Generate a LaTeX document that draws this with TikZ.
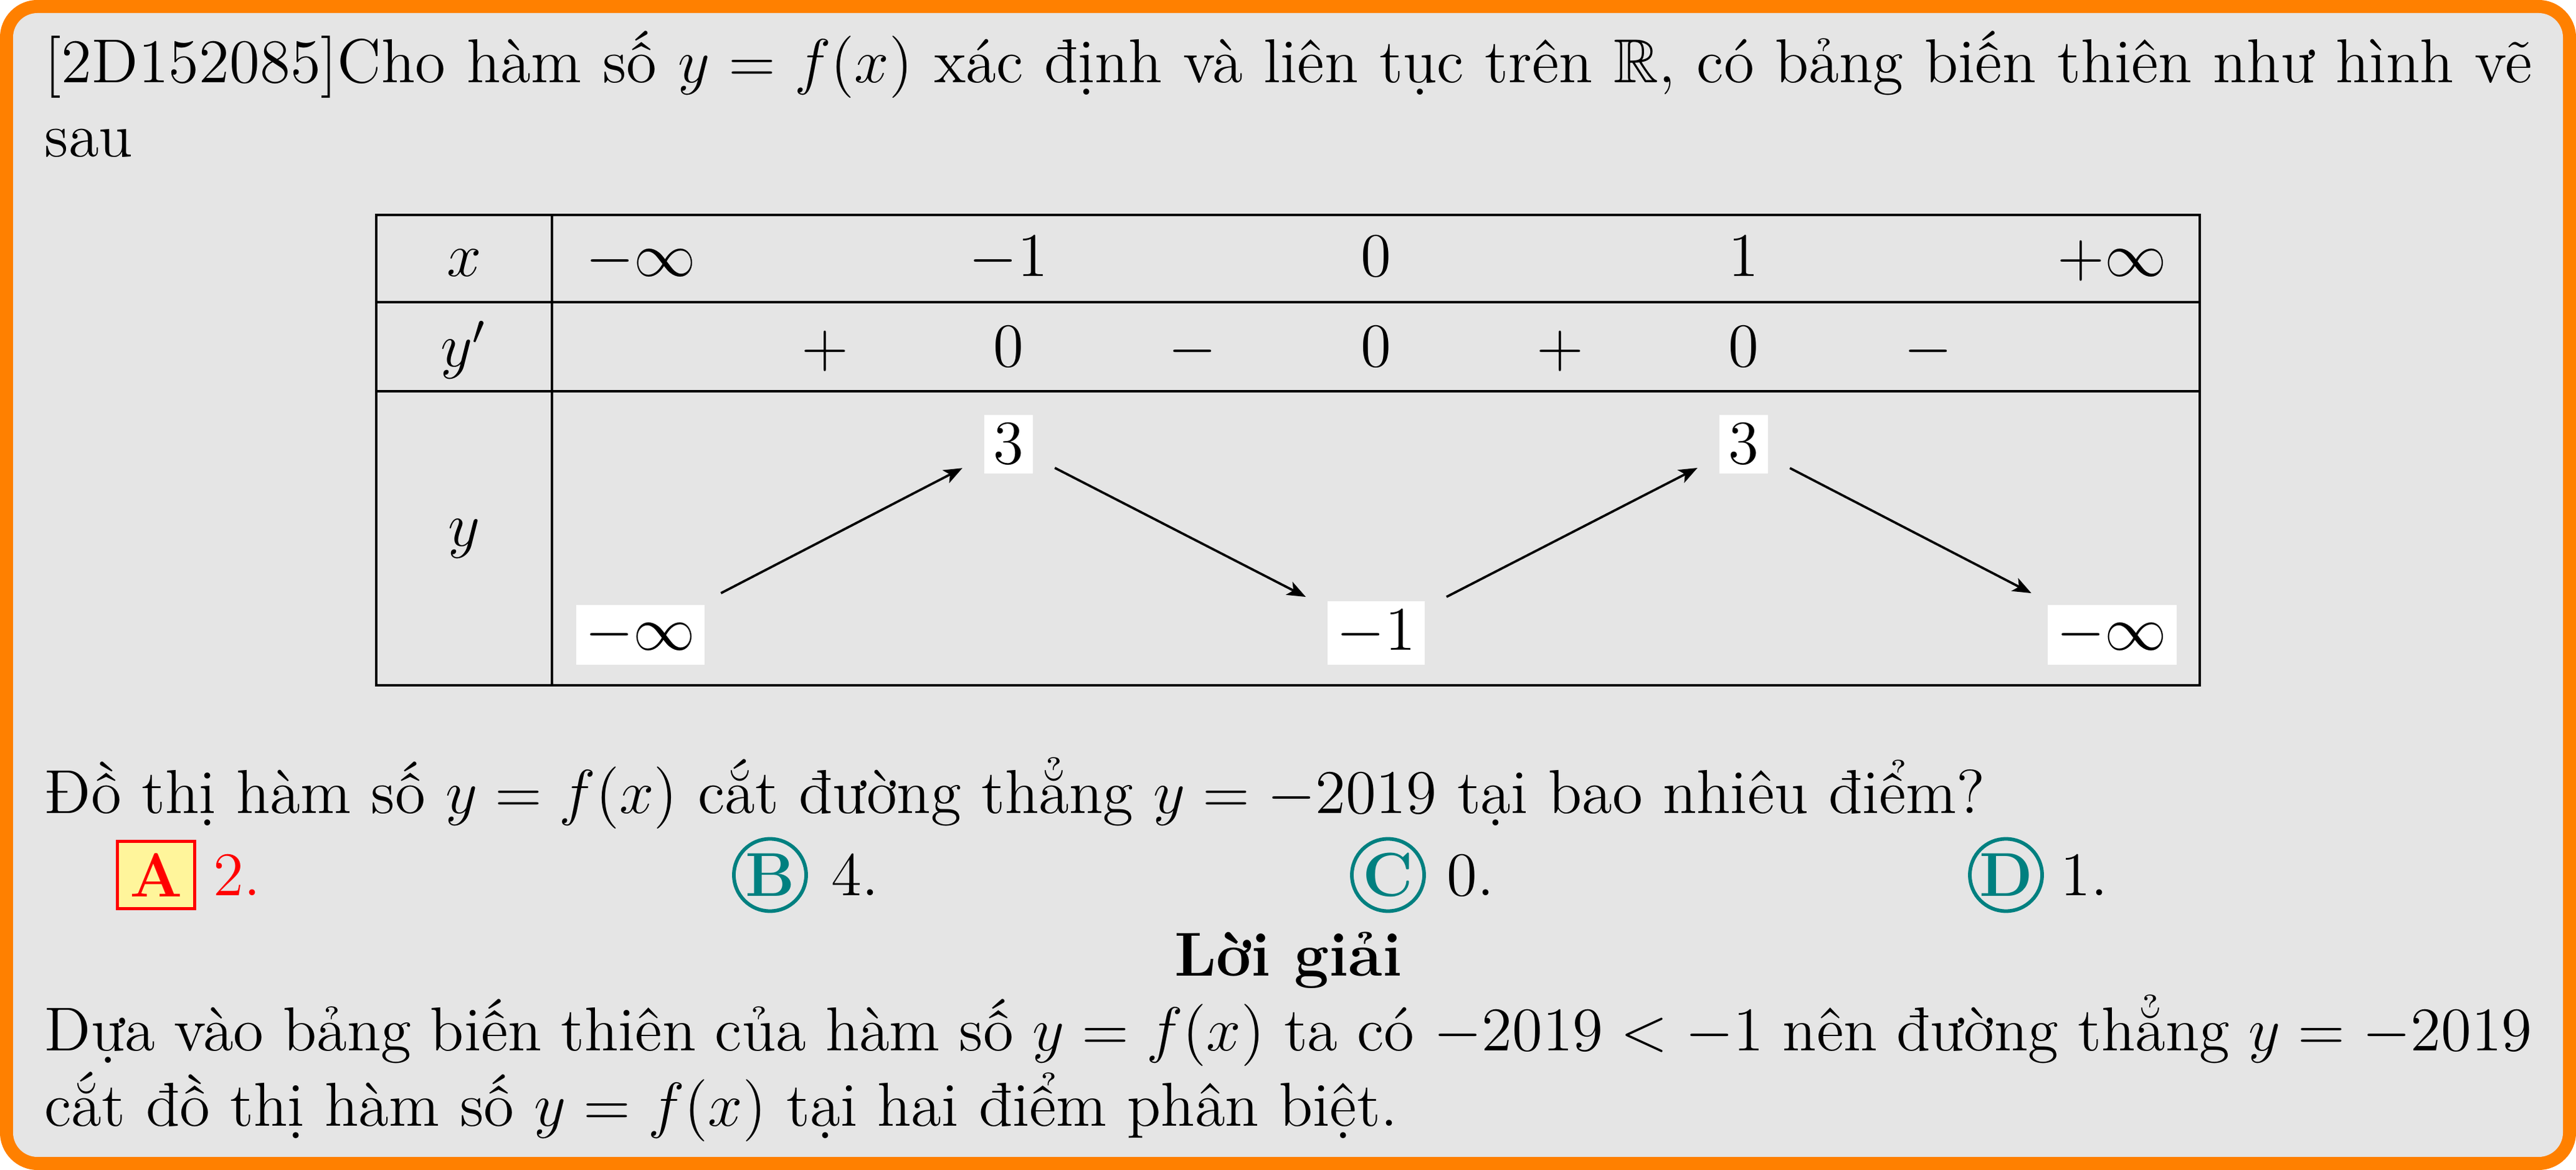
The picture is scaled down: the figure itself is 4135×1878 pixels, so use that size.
\documentclass[tikz,border=0pt,12pt]{standalone}
\usepackage{amssymb}
\usetikzlibrary{arrows.meta}
\newlength\pxu
\setlength\pxu{0.12048pt}
\definecolor{frameorange}{RGB}{255,128,0}
\definecolor{boxgray}{RGB}{229,229,229}
\definecolor{ansyellow}{RGB}{255,245,155}
\definecolor{ansteal}{RGB}{0,128,128}
\begin{document}
\begin{tikzpicture}[x=\pxu, y=-\pxu,
  every node/.style={inner sep=0pt},
  txt/.style={anchor=base west},
  tline/.style={line width=0.5pt},
  tval/.style={anchor=base},
  yval/.style={fill=white, inner sep=1.8pt, anchor=base},
  varrow/.style={-{Stealth[length=3.6pt,width=2.8pt,inset=0.9pt]}, line width=0.45pt, shorten <=4.5pt, shorten >=4.5pt},
  choicecirc/.style={circle, draw=ansteal, line width=0.7pt, minimum size=116\pxu, text=ansteal, font=\bfseries},
  choicebox/.style={draw=red, fill=ansyellow, line width=0.6pt, minimum width=124\pxu, minimum height=108\pxu, text=red, font=\bfseries}]
\useasboundingbox (0,0) rectangle (4135,1878);
% frame
\fill[frameorange, rounded corners=60\pxu] (0,0) rectangle (4135,1878);
\fill[boxgray, rounded corners=39\pxu] (21,21) rectangle (4114,1857);
% statement
\node[txt] (l1) at (70,133) {\makebox[3993\pxu][s]{[2D152085]Cho hàm số $y=f(x)$ xác định và liên tục trên $\mathbb{R}$, có bảng biến thiên như hình vẽ}};
\node[txt] (l2) at (70,252) {sau};
% table
\draw[tline] (604,345) rectangle (3531,1100);
\draw[tline] (604,485) -- (3531,485);
\draw[tline] (604,628) -- (3531,628);
\draw[tline] (886,345) -- (886,1100);
\node[tval] (lx) at (745,444) {$x$};
\node[tval] (lyp) at (745,589) {$y'$};
\node[tval] (ly) at (745,877) {$y$};
\node[tval] (x1) at (1029,444) {$-\infty$};
\node[tval] (x2) at (1619,444) {$-1$};
\node[tval] (x3) at (2209,444) {$0$};
\node[tval] (x4) at (2799,444) {$1$};
\node[tval] (x5) at (3390,444) {$+\infty$};
\node[tval] (s1) at (1324,589) {$+$};
\node[tval] (z1) at (1619,589) {$0$};
\node[tval] (s2) at (1914,589) {$-$};
\node[tval] (z2) at (2209,589) {$0$};
\node[tval] (s3) at (2504,589) {$+$};
\node[tval] (z3) at (2799,589) {$0$};
\node[tval] (s4) at (3095,589) {$-$};
\node[yval] (b1) at (1028,1044) {$-\infty$};
\node[yval] (t1) at (1619,745) {$3$};
\node[yval] (b2) at (2209,1044) {$-1$};
\node[yval] (t2) at (2799,745) {$3$};
\node[yval] (b3) at (3390,1044) {$-\infty$};
\draw[varrow] (b1) -- (t1);
\draw[varrow] (t1) -- (b2);
\draw[varrow] (b2) -- (t2);
\draw[varrow] (t2) -- (b3);
% question
\node[txt] (q) at (70,1306) {Đồ thị hàm số $y=f(x)$ cắt đường thẳng $y=-2019$ tại bao nhiêu điểm?};
\node[choicebox] (ca) at (250.5,1404.5) {A};
\node[txt, text=red] (ta) at (341,1438) {2.};
\node[choicecirc] (cb) at (1236,1404.5) {B};
\node[txt] (tb) at (1333,1438) {4.};
\node[choicecirc] (cc) at (2228,1404.5) {C};
\node[txt] (tc) at (2321,1438) {0.};
\node[choicecirc] (cd) at (3220,1404.5) {D};
\node[txt] (td) at (3306,1438) {1.};
% solution
\node[anchor=base, font=\bfseries] (lg) at (2068,1567) {Lời giải};
\node[txt] (s1l) at (70,1687) {\makebox[3993\pxu][s]{Dựa vào bảng biến thiên của hàm số $y=f(x)$ ta có $-2019<-1$ nên đường thẳng $y=-2019$}};
\node[txt] (s2l) at (70,1808) {cắt đồ thị hàm số $y=f(x)$ tại hai điểm phân biệt.};
\end{tikzpicture}
\end{document}
